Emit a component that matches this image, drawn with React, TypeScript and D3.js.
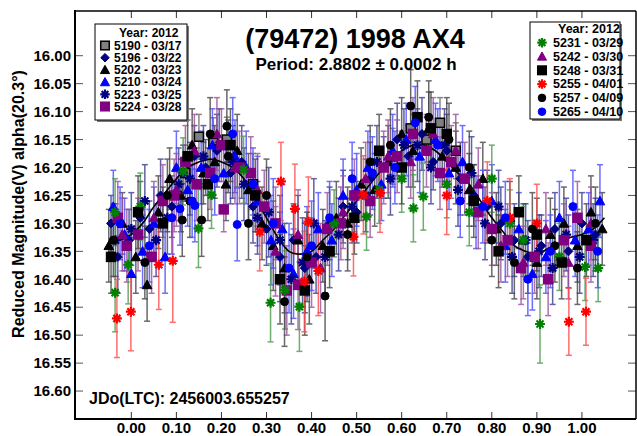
import React from "react";
import * as d3 from "d3";

type Pt = [number, number, number];

const xTicks = [0, 0.1, 0.2, 0.3, 0.4, 0.5, 0.6, 0.7, 0.8, 0.9, 1.0];
const yTicks = [16.0, 16.05, 16.1, 16.15, 16.2, 16.25, 16.3, 16.35, 16.4, 16.45, 16.5, 16.55, 16.6];

const fitPhase = [-0.05, -0.025, 0, 0.025, 0.05, 0.075, 0.1, 0.125, 0.15, 0.175, 0.2, 0.225, 0.25, 0.275, 0.3, 0.325, 0.35, 0.375, 0.4, 0.425, 0.45, 0.475, 0.5, 0.525, 0.55, 0.575, 0.6, 0.625, 0.65, 0.675, 0.7, 0.725, 0.75, 0.775, 0.8, 0.825, 0.85, 0.875, 0.9, 0.925, 0.95, 0.975, 1.0, 1.025, 1.05];
const fitMag = [16.33, 16.33, 16.32, 16.3, 16.27, 16.245, 16.22, 16.2, 16.19, 16.185, 16.19, 16.2, 16.22, 16.255, 16.29, 16.325, 16.35, 16.355, 16.35, 16.33, 16.31, 16.285, 16.26, 16.235, 16.21, 16.19, 16.17, 16.16, 16.16, 16.17, 16.19, 16.21, 16.23, 16.26, 16.29, 16.315, 16.34, 16.35, 16.355, 16.345, 16.335, 16.325, 16.32, 16.31, 16.29];

const s5190: Pt[] = [[0.15,16.145,0.04],[0.182,16.156,0.045],[0.212,16.15,0.04],[0.12,16.21,0.05],[0.27,16.23,0.055],[0.58,16.18,0.05],[0.62,16.13,0.045],[0.655,16.15,0.04],[0.685,16.12,0.045],[0.72,16.17,0.05]];
const s5196: Pt[] = [[-0.045,16.3,0.05],[-0.03,16.36,0.065],[-0.005,16.33,0.055],[0.02,16.29,0.065],[0.04,16.31,0.05],[0.065,16.25,0.065],[0.09,16.27,0.055],[0.115,16.21,0.05],[0.14,16.18,0.055],[0.165,16.2,0.05],[0.19,16.17,0.065],[0.22,16.21,0.055],[0.245,16.19,0.065],[0.27,16.27,0.065],[0.3,16.31,0.065],[0.33,16.36,0.08],[0.36,16.33,0.065],[0.385,16.38,0.08],[0.41,16.36,0.065],[0.44,16.3,0.065],[0.47,16.27,0.065],[0.5,16.28,0.055],[0.53,16.22,0.065],[0.56,16.2,0.055],[0.59,16.15,0.065],[0.615,16.18,0.055],[0.645,16.14,0.065],[0.67,16.19,0.05],[0.7,16.17,0.065],[0.73,16.22,0.065],[0.76,16.25,0.055],[0.79,16.27,0.065],[0.82,16.3,0.065],[0.85,16.33,0.065],[0.88,16.36,0.065],[0.91,16.34,0.055],[0.94,16.31,0.065],[0.97,16.35,0.065],[1.0,16.3,0.055],[1.03,16.32,0.065]];
const s5202: Pt[] = [[-0.05,16.34,0.065],[-0.02,16.3,0.055],[0.01,16.36,0.065],[0.035,16.41,0.065],[0.06,16.28,0.065],[0.085,16.22,0.055],[0.11,16.25,0.065],[0.135,16.16,0.065],[0.16,16.21,0.055],[0.185,16.19,0.065],[0.21,16.23,0.065],[0.235,16.17,0.065],[0.26,16.24,0.065],[0.29,16.3,0.065],[0.315,16.34,0.08],[0.34,16.38,0.08],[0.37,16.33,0.08],[0.395,16.4,0.08],[0.425,16.34,0.065],[0.455,16.29,0.065],[0.48,16.3,0.065],[0.51,16.23,0.065],[0.54,16.24,0.065],[0.57,16.19,0.065],[0.6,16.14,0.065],[0.625,16.17,0.065],[0.66,16.13,0.065],[0.69,16.18,0.055],[0.72,16.2,0.065],[0.75,16.24,0.065],[0.78,16.22,0.065],[0.81,16.31,0.065],[0.84,16.29,0.065],[0.87,16.33,0.065],[0.9,16.37,0.065],[0.93,16.32,0.065],[0.96,16.3,0.065],[0.99,16.34,0.065],[1.02,16.28,0.065],[1.045,16.31,0.065]];
const s5210: Pt[] = [[-0.04,16.27,0.065],[-0.015,16.32,0.065],[0.0,16.39,0.065],[0.025,16.35,0.065],[0.05,16.3,0.065],[0.075,16.36,0.065],[0.1,16.2,0.065],[0.125,16.24,0.065],[0.155,16.2,0.065],[0.18,16.16,0.065],[0.205,16.21,0.065],[0.23,16.18,0.065],[0.255,16.2,0.065],[0.28,16.26,0.08],[0.31,16.33,0.08],[0.335,16.31,0.08],[0.36,16.39,0.08],[0.39,16.35,0.08],[0.415,16.31,0.065],[0.445,16.33,0.065],[0.47,16.25,0.065],[0.5,16.24,0.065],[0.525,16.2,0.065],[0.555,16.23,0.065],[0.58,16.17,0.065],[0.61,16.15,0.065],[0.64,16.18,0.065],[0.675,16.15,0.065],[0.705,16.21,0.065],[0.735,16.19,0.065],[0.765,16.28,0.065],[0.8,16.26,0.065],[0.83,16.34,0.065],[0.86,16.31,0.065],[0.89,16.39,0.065],[0.92,16.36,0.065],[0.95,16.29,0.065],[0.985,16.33,0.065],[1.015,16.31,0.065],[1.04,16.26,0.065]];
const s5223: Pt[] = [[-0.035,16.33,0.065],[0.0,16.31,0.065],[0.03,16.26,0.065],[0.055,16.33,0.065],[0.08,16.29,0.065],[0.105,16.23,0.065],[0.13,16.22,0.065],[0.16,16.18,0.055],[0.195,16.16,0.065],[0.225,16.19,0.065],[0.25,16.23,0.065],[0.28,16.29,0.065],[0.305,16.28,0.08],[0.33,16.33,0.08],[0.355,16.4,0.08],[0.38,16.37,0.08],[0.405,16.3,0.08],[0.43,16.36,0.065],[0.46,16.32,0.065],[0.49,16.27,0.065],[0.52,16.25,0.065],[0.545,16.19,0.065],[0.575,16.22,0.065],[0.605,16.16,0.065],[0.635,16.16,0.065],[0.665,16.2,0.065],[0.695,16.16,0.065],[0.725,16.24,0.065],[0.755,16.21,0.065],[0.785,16.3,0.065],[0.815,16.27,0.065],[0.845,16.36,0.065],[0.875,16.33,0.065],[0.905,16.35,0.065],[0.935,16.38,0.065],[0.965,16.32,0.065],[0.995,16.36,0.065],[1.025,16.33,0.065]];
const s5224: Pt[] = [[-0.03,16.29,0.065],[-0.01,16.34,0.065],[0.015,16.32,0.065],[0.045,16.36,0.065],[0.07,16.26,0.065],[0.095,16.25,0.065],[0.12,16.19,0.065],[0.145,16.23,0.065],[0.175,16.21,0.065],[0.2,16.16,0.065],[0.205,16.275,0.04],[0.24,16.2,0.065],[0.265,16.21,0.065],[0.295,16.27,0.065],[0.32,16.3,0.065],[0.345,16.42,0.08],[0.37,16.41,0.08],[0.4,16.37,0.08],[0.435,16.31,0.065],[0.465,16.3,0.065],[0.495,16.25,0.065],[0.53,16.26,0.065],[0.56,16.2,0.065],[0.59,16.18,0.065],[0.625,16.14,0.065],[0.655,16.17,0.065],[0.685,16.21,0.065],[0.71,16.19,0.065],[0.74,16.22,0.065],[0.77,16.28,0.065],[0.8,16.31,0.065],[0.835,16.33,0.065],[0.865,16.38,0.065],[0.895,16.36,0.065],[0.925,16.4,0.065],[0.96,16.33,0.065],[0.99,16.29,0.065],[1.02,16.34,0.065]];
const s5231: Pt[] = [[-0.036,16.424,0.07],[-0.036,16.28,0.06],[-0.007,16.374,0.07],[0.02,16.27,0.06],[0.115,16.207,0.06],[0.149,16.309,0.07],[0.178,16.249,0.06],[0.249,16.204,0.06],[0.309,16.442,0.07],[0.341,16.419,0.07],[0.373,16.449,0.08],[0.45,16.3,0.06],[0.522,16.288,0.06],[0.55,16.24,0.06],[0.6,16.22,0.06],[0.626,16.273,0.06],[0.648,16.252,0.06],[0.7,16.23,0.06],[0.75,16.28,0.06],[0.8,16.22,0.06],[0.84,16.3,0.06],[0.87,16.33,0.06],[0.907,16.48,0.07],[0.95,16.36,0.06],[1.007,16.378,0.06],[1.036,16.38,0.06]];
const s5242: Pt[] = [[-0.02,16.32,0.065],[0.05,16.29,0.065],[0.1,16.24,0.065],[0.14,16.17,0.065],[0.19,16.14,0.065],[0.23,16.2,0.065],[0.28,16.24,0.065],[0.32,16.35,0.08],[0.37,16.32,0.08],[0.42,16.38,0.08],[0.47,16.28,0.065],[0.52,16.22,0.065],[0.57,16.18,0.065],[0.62,16.19,0.065],[0.67,16.14,0.065],[0.72,16.17,0.065],[0.77,16.23,0.065],[0.82,16.34,0.065],[0.87,16.37,0.065],[0.92,16.31,0.065],[0.97,16.37,0.065],[1.02,16.3,0.065]];
const s5248: Pt[] = [[-0.045,16.36,0.065],[0.015,16.28,0.065],[0.07,16.3,0.065],[0.125,16.18,0.065],[0.17,16.23,0.065],[0.22,16.16,0.065],[0.275,16.25,0.065],[0.33,16.4,0.08],[0.385,16.42,0.08],[0.44,16.35,0.065],[0.495,16.29,0.065],[0.55,16.17,0.065],[0.6,16.2,0.065],[0.635,16.11,0.065],[0.665,16.13,0.065],[0.7,16.14,0.065],[0.76,16.26,0.065],[0.815,16.35,0.065],[0.86,16.28,0.065],[0.9,16.32,0.065],[0.955,16.37,0.065],[1.01,16.33,0.065]];
const s5255: Pt[] = [[-0.032,16.47,0.07],[-0.001,16.458,0.07],[0.061,16.374,0.08],[0.092,16.367,0.11],[0.285,16.315,0.07],[0.332,16.225,0.07],[0.363,16.274,0.08],[0.384,16.404,0.09],[0.393,16.297,0.08],[0.415,16.385,0.08],[0.493,16.324,0.07],[0.515,16.249,0.07],[0.552,16.246,0.07],[0.7,16.25,0.07],[0.79,16.26,0.07],[0.84,16.29,0.07],[0.9,16.3,0.07],[0.971,16.476,0.06],[1.009,16.458,0.06]];
const s5257: Pt[] = [[-0.04,16.33,0.065],[0.03,16.37,0.065],[0.08,16.25,0.065],[0.113,16.294,0.065],[0.13,16.26,0.065],[0.156,16.294,0.065],[0.175,16.14,0.065],[0.212,16.126,0.065],[0.215,16.18,0.065],[0.26,16.3,0.065],[0.3,16.25,0.065],[0.34,16.44,0.08],[0.39,16.36,0.08],[0.43,16.43,0.08],[0.48,16.32,0.065],[0.53,16.19,0.065],[0.575,16.16,0.065],[0.62,16.09,0.065],[0.66,16.11,0.065],[0.705,16.15,0.065],[0.75,16.2,0.065],[0.8,16.33,0.065],[0.85,16.37,0.065],[0.89,16.31,0.065],[0.94,16.34,0.065],[0.99,16.38,0.065],[1.03,16.3,0.065]];
const s5265: Pt[] = [[-0.025,16.3,0.065],[0.04,16.34,0.065],[0.09,16.29,0.065],[0.108,16.274,0.065],[0.135,16.26,0.065],[0.141,16.268,0.065],[0.185,16.22,0.065],[0.225,16.14,0.065],[0.235,16.302,0.065],[0.27,16.23,0.065],[0.315,16.3,0.08],[0.35,16.38,0.08],[0.4,16.34,0.08],[0.44,16.29,0.065],[0.49,16.22,0.065],[0.535,16.21,0.065],[0.585,16.2,0.065],[0.63,16.12,0.065],[0.68,16.16,0.065],[0.73,16.26,0.065],[0.78,16.27,0.065],[0.83,16.29,0.065],[0.88,16.4,0.065],[0.93,16.35,0.065],[0.98,16.27,0.065],[1.035,16.35,0.065]];

type Shape = "square" | "diamond" | "triangle" | "star" | "circle";
interface Series { id: string; date: string; shape: Shape; fill: string; stroke: string; err: string; data: Pt[]; }

const leftSeries: Series[] = [
  { id: "5190", date: "03/17", shape: "square", fill: "#808080", stroke: "#000000", err: "#6a6a6a", data: s5190 },
  { id: "5196", date: "03/22", shape: "diamond", fill: "#000080", stroke: "#000080", err: "#3a3a90", data: s5196 },
  { id: "5202", date: "03/23", shape: "triangle", fill: "#000000", stroke: "#000000", err: "#444444", data: s5202 },
  { id: "5210", date: "03/24", shape: "triangle", fill: "#0000ff", stroke: "#0000ff", err: "#4a4aff", data: s5210 },
  { id: "5223", date: "03/25", shape: "star", fill: "#000080", stroke: "#000080", err: "#3a3a90", data: s5223 },
  { id: "5224", date: "03/28", shape: "square", fill: "#800080", stroke: "#800080", err: "#9a509a", data: s5224 },
];
const rightSeries: Series[] = [
  { id: "5231", date: "03/29", shape: "star", fill: "#008000", stroke: "#008000", err: "#4a9a4a", data: s5231 },
  { id: "5242", date: "03/30", shape: "triangle", fill: "#800080", stroke: "#800080", err: "#9a509a", data: s5242 },
  { id: "5248", date: "03/31", shape: "square", fill: "#000000", stroke: "#000000", err: "#444444", data: s5248 },
  { id: "5255", date: "04/01", shape: "star", fill: "#ff0000", stroke: "#ff0000", err: "#ff4a4a", data: s5255 },
  { id: "5257", date: "04/09", shape: "circle", fill: "#000000", stroke: "#000000", err: "#444444", data: s5257 },
  { id: "5265", date: "04/10", shape: "circle", fill: "#0000ff", stroke: "#0000ff", err: "#4a4aff", data: s5265 },
];
const allSeries = [...leftSeries, ...rightSeries];

const FONT = "'Liberation Sans', Arial, Helvetica, sans-serif";

function Marker({ shape, fill, stroke, cx, cy, s = 1 }: { shape: Shape; fill: string; stroke: string; cx: number; cy: number; s?: number }) {
  if (shape === "square") {
    const h = 4.5 * s;
    return <rect x={cx - h} y={cy - h} width={2 * h} height={2 * h} fill={fill} stroke={stroke} strokeWidth={1.5} />;
  }
  if (shape === "diamond") {
    const h = 4.5 * s;
    return <path d={`M${cx},${cy - h}L${cx + h},${cy}L${cx},${cy + h}L${cx - h},${cy}Z`} fill={fill} stroke={stroke} strokeWidth={1} />;
  }
  if (shape === "triangle") {
    const h = 4.8 * s;
    return <path d={`M${cx},${cy - h}L${cx + h},${cy + h * 0.8}L${cx - h},${cy + h * 0.8}Z`} fill={fill} stroke={stroke} strokeWidth={1} />;
  }
  if (shape === "circle") {
    return <circle cx={cx} cy={cy} r={4 * s} fill={fill} stroke={stroke} strokeWidth={1} />;
  }
  const r = 5 * s;
  const a = r * 0.707;
  return (
    <path
      d={`M${cx - r},${cy}L${cx + r},${cy}M${cx},${cy - r}L${cx},${cy + r}M${cx - a},${cy - a}L${cx + a},${cy + a}M${cx - a},${cy + a}L${cx + a},${cy - a}`}
      stroke={stroke}
      strokeWidth={2.2}
      fill="none"
    />
  );
}

export default function App() {
  const L = 75, R = 636, T = 11, B = 419;
  const x = d3.scaleLinear().domain([-0.125, 1.12]).range([L, R]);
  const y = d3.scaleLinear().domain([15.92, 16.65]).range([T, B]);
  const fitLine = d3
    .line<number>()
    .x((_, i) => x(fitPhase[i]))
    .y((d) => y(d))
    .curve(d3.curveCatmullRom)(fitMag) as string;

  const legend = (items: Series[], bx: number, by: number, bw: number, bh: number, yearY: number, y0: number, dy: number, symX: number, textX: number, fs: number) => (
    <g>
      <rect x={bx + 2} y={by + 2} width={bw} height={bh} fill="#7a7a7a" />
      <rect x={bx} y={by} width={bw} height={bh} fill="#ffffff" stroke="#000" strokeWidth={1} />
      <text x={textX + 5} y={yearY} dy="0.35em" fontFamily={FONT} fontWeight="bold" fontSize={fs} fill="#000">Year: 2012</text>
      {items.map((s, i) => (
        <g key={s.id}>
          <Marker shape={s.shape} fill={s.fill} stroke={s.stroke} cx={symX} cy={y0 + i * dy} s={0.95} />
          <text x={textX} y={y0 + i * dy} dy="0.35em" fontFamily={FONT} fontWeight="bold" fontSize={fs} fill="#000">
            {`${s.id} - ${s.date}`}
          </text>
        </g>
      ))}
    </g>
  );

  return (
    <svg width={637} height={436} style={{ position: "absolute", left: 0, top: 0, background: "#fff" }}>
      <rect x={0} y={0} width={637} height={436} fill="#fff" />
      {xTicks.map((t) => (
        <g key={"xt" + t}>
          <line x1={x(t)} x2={x(t)} y1={B} y2={B - 7} stroke="#333" strokeWidth={1} />
          <line x1={x(t)} x2={x(t)} y1={T} y2={T + 7} stroke="#333" strokeWidth={1} />
          <text x={x(t)} y={433} textAnchor="middle" fontFamily={FONT} fontWeight="bold" fontSize={15} fill="#000">{t.toFixed(2)}</text>
        </g>
      ))}
      {yTicks.map((t) => (
        <g key={"yt" + t}>
          <line x1={L} x2={L + 8} y1={y(t)} y2={y(t)} stroke="#555" strokeWidth={1} />
          <line x1={R} x2={R - 8} y1={y(t)} y2={y(t)} stroke="#555" strokeWidth={1} />
          <text x={71} y={y(t)} dy="0.35em" textAnchor="end" fontFamily={FONT} fontWeight="bold" fontSize={15} fill="#000">{t.toFixed(2)}</text>
        </g>
      ))}
      {allSeries.map((s) => (
        <g key={"e" + s.id} opacity={0.8}>
          {s.data.map((d, i) => (
            <g key={i} stroke={s.err} strokeWidth={1.5}>
              <line x1={x(d[0])} x2={x(d[0])} y1={y(d[1] - d[2])} y2={y(d[1] + d[2])} />
              <line x1={x(d[0]) - 3} x2={x(d[0]) + 3} y1={y(d[1] - d[2])} y2={y(d[1] - d[2])} />
              <line x1={x(d[0]) - 3} x2={x(d[0]) + 3} y1={y(d[1] + d[2])} y2={y(d[1] + d[2])} />
            </g>
          ))}
        </g>
      ))}
      <path d={fitLine} fill="none" stroke="#000" strokeWidth={1.6} />
      {allSeries.map((s) => (
        <g key={"m" + s.id}>
          {s.data.map((d, i) => (
            <Marker key={i} shape={s.shape} fill={s.fill} stroke={s.stroke} cx={x(d[0])} cy={y(d[1])} />
          ))}
        </g>
      ))}
      <line x1={L} x2={R} y1={T} y2={T} stroke="#000" strokeWidth={1.5} />
      <line x1={R} x2={R} y1={T} y2={B} stroke="#000" strokeWidth={1.5} />
      <line x1={L} x2={L} y1={T - 1} y2={B + 1} stroke="#000" strokeWidth={2} />
      <line x1={L - 1} x2={R} y1={B} y2={B} stroke="#000" strokeWidth={2} />
      {legend(leftSeries, 95, 24, 92, 96, 33, 45.5, 12.2, 105, 114, 12)}
      {legend(rightSeries, 530, 22, 90, 97, 29, 42.7, 13.8, 542, 553, 12.5)}
      <text x={355} y={48} textAnchor="middle" fontFamily={FONT} fontWeight="bold" fontSize={27} fill="#000">(79472) 1998 AX4</text>
      <text x={356} y={70} textAnchor="middle" fontFamily={FONT} fontWeight="bold" fontSize={17} fill="#000">Period: 2.8802 ± 0.0002 h</text>
      <text x={89} y={404} fontFamily={FONT} fontWeight="bold" fontSize={16} fill="#000">JDo(LTC): 2456003.655257</text>
      <text transform="translate(24,204) rotate(-90)" textAnchor="middle" fontFamily={FONT} fontWeight="bold" fontSize={16} fill="#000">Reduced Magnitude(V) alpha(20.3°)</text>
    </svg>
  );
}
